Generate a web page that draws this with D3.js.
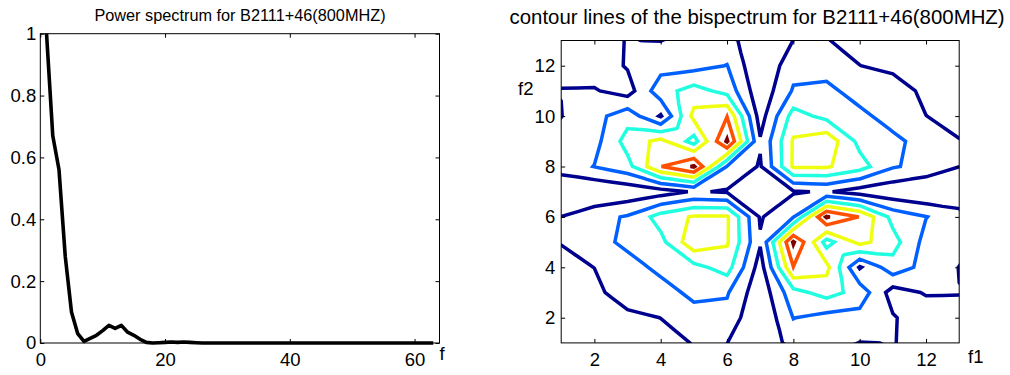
<!DOCTYPE html>
<html>
<head>
<meta charset="utf-8">
<script src="https://cdn.jsdelivr.net/npm/d3@7"></script>
<style>
  body { margin: 0; background: #fff; }
  svg { display: block; }
  text { font-family: "Liberation Sans", Arial, Helvetica, sans-serif; fill: #000; }
</style>
</head>
<body>
<svg id="chart" width="1010" height="375"></svg>
<script>
// ---- power spectrum (normalised), f = 1..63
const spectrumF = d3.range(1, 64);
const spectrumValues = [
  1.0, 0.67, 0.56, 0.28, 0.1, 0.03, 0.005, 0.015, 0.025, 0.04,
  0.057, 0.047, 0.057, 0.035, 0.025, 0.012, 0.002, 0.0, 0.001, 0.002,
  0.003, 0.002, 0.003, 0.002, 0.001, 0, 0, 0, 0, 0,
  0, 0, 0, 0, 0, 0, 0, 0, 0, 0,
  0, 0, 0, 0, 0, 0, 0, 0, 0, 0,
  0, 0, 0, 0, 0, 0, 0, 0, 0, 0,
  0, 0, 0
];
const spectrumXTicks = [0, 20, 40, 60];
const spectrumYTicks = [0, 0.2, 0.4, 0.6, 0.8, 1];

// ---- bispectrum magnitude, rows top to bottom (f2 = 13 .. 1), columns f1 = 1 .. 13
const bispectrum = [
  [0.5, 0.885, 1.013, 0.98, 1.38, 1.39, 0.2, 1.01, 1.04, 0.7, 0.5, 0.3, 0.2],
  [0.885, 0.4, 1.09, 1.64, 1.65, 2.03, 0.05, 1.66, 1.5, 1.01, 0.75, 0.5, 0.3],
  [1.013, 1.09, 0.55, 2.61, 3.4, 2.66, 0.3, 2.1, 2.31, 1.49, 1.53, 0.75, 0.5],
  [0.98, 1.64, 2.61, 0.9, 4.3, 4.97, 0.55, 3.42, 2.7, 2.31, 1.49, 1.01, 0.7],
  [1.38, 1.65, 3.4, 4.3, 2.6, 6.115, 1.1, 4.11, 4.7, 2.7, 2.31, 1.5, 1.04],
  [1.39, 2.03, 2.66, 4.97, 6.115, 1.95, 0.9, 4.13, 4.11, 3.42, 2.1, 1.66, 1.01],
  [0.2, 0.05, 0.3, 0.55, 1.1, 0.9, 0.4, 0.9, 1.1, 0.55, 0.3, 0.05, 0.2],
  [1.01, 1.66, 2.1, 3.42, 4.11, 4.13, 0.9, 1.95, 6.115, 4.97, 2.66, 2.03, 1.39],
  [1.04, 1.5, 2.31, 2.7, 4.7, 4.11, 1.1, 6.115, 2.6, 4.3, 3.4, 1.65, 1.38],
  [0.7, 1.01, 1.49, 2.31, 2.7, 3.42, 0.55, 4.97, 4.3, 0.9, 2.61, 1.64, 0.98],
  [0.5, 0.75, 1.53, 1.49, 2.31, 2.1, 0.3, 2.66, 3.4, 2.61, 0.55, 1.09, 1.013],
  [0.3, 0.5, 0.75, 1.01, 1.5, 1.66, 0.05, 2.03, 1.65, 1.64, 1.09, 0.4, 0.885],
  [0.2, 0.3, 0.5, 0.7, 1.04, 1.01, 0.2, 1.39, 1.38, 0.98, 1.013, 0.885, 0.5]
];
const contourLevels = [1, 2, 3, 4, 5, 6];
const levelColors = ['#00008f', '#0060ff', '#20ffdf', '#efff10', '#ff5000', '#800000'];
const bispecTicks = [2, 4, 6, 8, 10, 12];

const svg = d3.select('#chart');
svg.append('rect').attr('width', 1010).attr('height', 375).attr('fill', '#fff');

function drawAxes(g, xs, ys, xTicks, yTicks, yPad) {
  const [xa, xb] = xs.range();
  const [ya, yb] = ys.range();
  const fmt = d => String(d);
  const none = () => '';
  g.append('g').attr('transform', `translate(0,${ya})`)
    .call(d3.axisBottom(xs).tickValues(xTicks).tickFormat(fmt).tickSizeInner(-4).tickSizeOuter(0).tickPadding(10));
  g.append('g').attr('transform', `translate(0,${yb})`)
    .call(d3.axisTop(xs).tickValues(xTicks).tickFormat(none).tickSizeInner(-4).tickSizeOuter(0));
  g.append('g').attr('transform', `translate(${xa},0)`)
    .call(d3.axisLeft(ys).tickValues(yTicks).tickFormat(fmt).tickSizeInner(-4).tickSizeOuter(0).tickPadding(yPad));
  g.append('g').attr('transform', `translate(${xb},0)`)
    .call(d3.axisRight(ys).tickValues(yTicks).tickFormat(none).tickSizeInner(-4).tickSizeOuter(0));
  g.selectAll('.domain').remove();
  g.selectAll('.tick line').attr('stroke', '#000');
  g.selectAll('g').attr('font-family', null).attr('font-size', 18.5);
  g.selectAll('.tick text').attr('fill', '#000');
  g.append('rect').attr('x', xa).attr('y', yb).attr('width', xb - xa).attr('height', ya - yb)
    .attr('fill', 'none').attr('stroke', '#000').attr('stroke-width', 1);
}

// ---------- left panel
const xs1 = d3.scaleLinear().domain([0, 64]).range([40.3, 439.5]);
const ys1 = d3.scaleLinear().domain([0, 1]).range([343, 33.7]);
const left = svg.append('g');

left.append('path')
  .datum(spectrumValues)
  .attr('fill', 'none')
  .attr('stroke', '#000')
  .attr('stroke-width', 3.6)
  .attr('stroke-linejoin', 'round')
  .attr('d', d3.line().x((d, i) => xs1(spectrumF[i])).y(d => ys1(d)));

drawAxes(left, xs1, ys1, spectrumXTicks, spectrumYTicks, 4);

left.append('text').attr('x', 240).attr('y', 20.7).attr('text-anchor', 'middle')
  .attr('font-size', 16.3).text('Power spectrum for B2111+46(800MHZ)');
left.append('text').attr('x', 439.5).attr('y', 360).attr('font-size', 18.5).text('f');

// ---------- right panel
const xs2 = d3.scaleLinear().domain([1, 13]).range([561.2, 959.2]);
const ys2 = d3.scaleLinear().domain([1, 13]).range([342.9, 40.5]);
const right = svg.append('g');

right.append('clipPath').attr('id', 'plotclip')
  .append('rect').attr('x', 561.2).attr('y', 40.5).attr('width', 398).attr('height', 302.4);

// grid in f2-ascending order
const grid = bispectrum.slice().reverse();
const n = grid.length;
const N = 2 * n - 1;
const vmin = d3.min(grid.flat()), vmax = d3.max(grid.flat());

// centre value of a cell for one level: keeps the straight marching-squares
// segment of ordinary cells, and settles saddles by the cell mean (as MATLAB does)
function cellCentre(a, b, c, d, L) {
  const mean = (a + b + c + d) / 4;
  const up = [a >= L, b >= L, c >= L, d >= L];
  const k = up.filter(Boolean).length;
  if (k === 0 || k === 4) return mean;
  if (k === 2 && up[0] === up[3]) return mean;
  const pts = [];
  const cross = (v0, v1, p0, p1) => {
    if ((v0 >= L) !== (v1 >= L)) {
      const t = (L - v0) / (v1 - v0);
      pts.push([p0[0] + t * (p1[0] - p0[0]), p0[1] + t * (p1[1] - p0[1])]);
    }
  };
  cross(a, b, [0, 0], [1, 0]);
  cross(c, d, [0, 1], [1, 1]);
  cross(a, c, [0, 0], [0, 1]);
  cross(b, d, [1, 0], [1, 1]);
  const [P, Q] = pts;
  const mBottom = (a + b) / 2, mTop = (c + d) / 2, mLeft = (a + c) / 2, mRight = (b + d) / 2;
  const req = [];
  if ((P[0] - 0.5) * (Q[0] - 0.5) < 0) {
    const y = P[1] + (0.5 - P[0]) / (Q[0] - P[0]) * (Q[1] - P[1]);
    if (y < 0.5) { const s = y / 0.5; req.push(mBottom - (mBottom - L) / s); }
    else { const s = (y - 0.5) / 0.5; req.push((L - s * mTop) / (1 - s)); }
  }
  if ((P[1] - 0.5) * (Q[1] - 0.5) < 0) {
    const x = P[0] + (0.5 - P[1]) / (Q[1] - P[1]) * (Q[0] - P[0]);
    if (x < 0.5) { const s = x / 0.5; req.push(mLeft - (mLeft - L) / s); }
    else { const s = (x - 0.5) / 0.5; req.push((L - s * mRight) / (1 - s)); }
  }
  if (!req.length) return mean;
  return Math.max(vmin - 20, Math.min(vmax + 20, d3.mean(req)));
}

function refinedGrid(L) {
  const fine = new Float64Array(N * N);
  for (let j = 0; j < n; j++) {
    for (let i = 0; i < n; i++) {
      fine[2 * j * N + 2 * i] = grid[j][i];
      if (i < n - 1) fine[2 * j * N + 2 * i + 1] = (grid[j][i] + grid[j][i + 1]) / 2;
      if (j < n - 1) fine[(2 * j + 1) * N + 2 * i] = (grid[j][i] + grid[j + 1][i]) / 2;
      if (i < n - 1 && j < n - 1) {
        fine[(2 * j + 1) * N + 2 * i + 1] =
          cellCentre(grid[j][i], grid[j][i + 1], grid[j + 1][i], grid[j + 1][i + 1], L);
      }
    }
  }
  return fine;
}

const contours = contourLevels.map(L =>
  d3.contours().size([N, N]).thresholds([L])(refinedGrid(L))[0]);

const toPlot = d3.geoTransform({
  point(x, y) {
    this.stream.point(xs2(1 + (x - 0.5) / 2), ys2(1 + (y - 0.5) / 2));
  }
});
const path = d3.geoPath(toPlot);

right.append('g').attr('clip-path', 'url(#plotclip)')
  .selectAll('path')
  .data(contours)
  .join('path')
  .attr('d', path)
  .attr('fill', 'none')
  .attr('stroke', (d, i) => levelColors[i])
  .attr('stroke-width', 3.5)
  .attr('stroke-linejoin', 'miter');

drawAxes(right, xs2, ys2, bispecTicks, bispecTicks, 6);

right.append('text').attr('x', 509.5).attr('y', 24).attr('text-anchor', 'start')
  .attr('font-size', 20.4).text('contour lines of the bispectrum for B2111+46(800MHZ)');
right.append('text').attr('x', 968).attr('y', 363).attr('font-size', 18.5).text('f1');
right.append('text').attr('x', 518).attr('y', 95).attr('font-size', 18.5).text('f2');
</script>
</body>
</html>
